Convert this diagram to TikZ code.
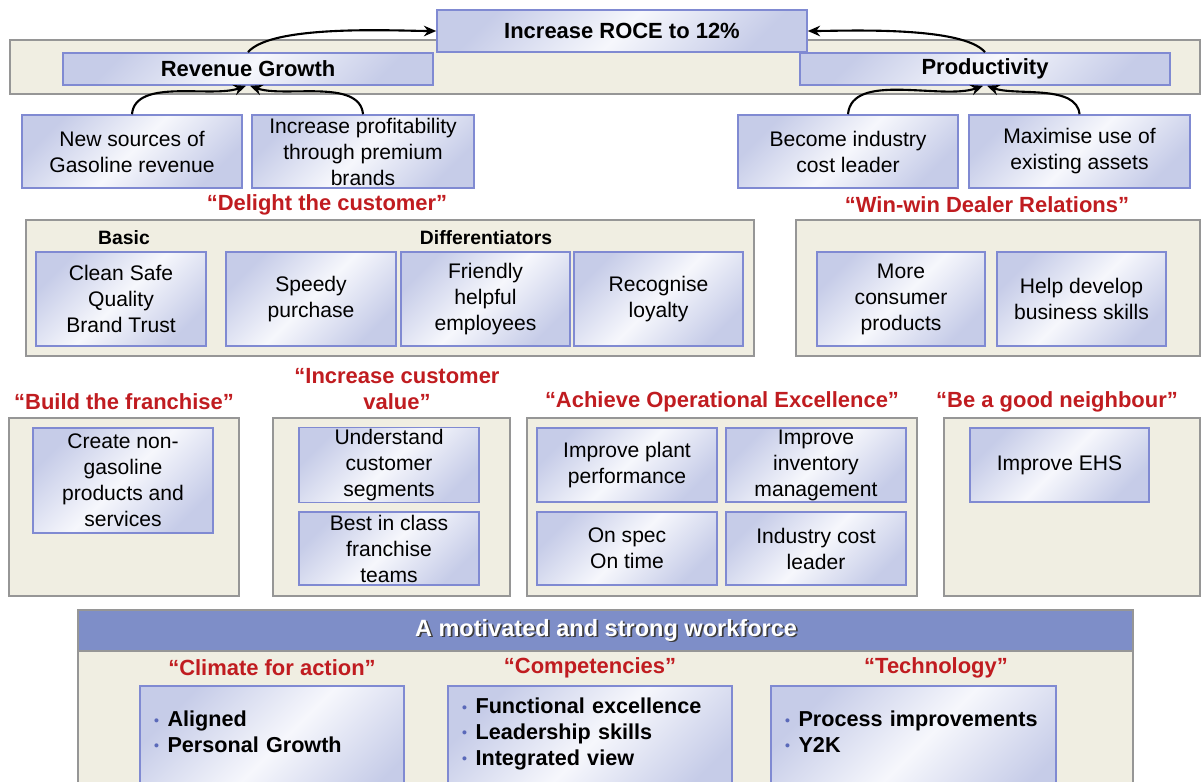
\documentclass[tikz,border=0pt]{standalone}
\usepackage{fontspec}
\setmainfont{Liberation Sans}
\usetikzlibrary{arrows.meta}
\newlength{\px}
\setlength{\px}{0.02cm}
\tikzstyle{panel} = [draw=panelline, fill=panelfill, line width=1.1pt]
\tikzstyle{goal} = [rectangle, draw=boxline, line width=0.9pt, top color=boxdark, bottom color=boxdark, middle color=boxlight, shading angle=45, align=center, inner sep=1pt, font=\boxfont]
\tikzstyle{headgoal} = [goal, font=\headfont]
\tikzstyle{theme} = [text=titlered, align=center, font=\themefont]
\tikzstyle{tag} = [font=\tagfont]
\tikzstyle{listbox} = [goal, anchor=north, align=left, inner xsep=14\px, inner ysep=0pt, text depth=90\px, font=\listfont]
\tikzstyle{arrow} = [line width=1.2pt,-{Stealth[length=7pt,width=6pt]}]
\definecolor{panelfill}{RGB}{240,238,226}
\definecolor{panelline}{RGB}{150,150,150}
\definecolor{boxline}{RGB}{128,138,210}
\definecolor{boxdark}{RGB}{198,204,232}
\definecolor{boxlight}{RGB}{246,247,252}
\definecolor{headblue}{RGB}{126,142,200}
\definecolor{titlered}{RGB}{192,28,32}
\definecolor{bulletblue}{RGB}{90,105,185}
\definecolor{shadowgray}{RGB}{60,60,60}
\newcommand{\boxfont}{\fontsize{12}{14.8}\selectfont}
\newcommand{\headfont}{\bfseries\fontsize{12.5}{15}\selectfont}
\newcommand{\themefont}{\bfseries\fontsize{12.5}{14.8}\selectfont}
\newcommand{\tagfont}{\bfseries\fontsize{11}{13}\selectfont}
\newcommand{\listfont}{\bfseries\fontsize{12.3}{14.6}\selectfont}
\newcommand{\bul}{\textcolor{bulletblue}{\raisebox{1pt}{\footnotesize •}}\hspace{0.4em}}
\newcommand{\shadowtext}[1]{\rlap{\textcolor{shadowgray}{\kern1pt\raisebox{-1pt}{#1}}}\textcolor{white}{#1}}

\begin{document}
\begin{tikzpicture}[x=0.02cm, y=0.02cm]
\useasboundingbox (0,0) rectangle (1202,-781);

% financial goals
\draw[panel] (10,-40) rectangle (1200,-94);
\node (roce) [headgoal, minimum width=370\px, minimum height=42\px] at (622,-31) {Increase ROCE to 12\%};
\node (revenue) [headgoal, minimum width=370\px, minimum height=32\px] at (248,-69) {Revenue Growth};
\node (productivity) [headgoal, minimum width=370\px, minimum height=32\px] at (985,-69) {Productivity};
\node (newsources) [goal, minimum width=220\px, minimum height=73\px] at (132,-151.5) {New sources of\\Gasoline revenue};
\node (premium) [goal, minimum width=222\px, minimum height=73\px] at (363,-151.5) {Increase profitability\\through premium\\brands};
\node (costleader) [goal, minimum width=220\px, minimum height=73\px] at (848,-151.5) {Become industry\\cost leader};
\node (assets) [goal, minimum width=221\px, minimum height=73\px] at (1079.5,-151.5) {Maximise use of\\existing assets};
\draw[arrow] (revenue.north) to[out=50,in=180,looseness=0.5] (roce.west);
\draw[arrow] (productivity.north) to[out=130,in=0,looseness=0.5] (roce.east);
\draw[arrow] (newsources.north) to[out=85,in=200,looseness=0.8] ([xshift=-2\px]revenue.south);
\draw[arrow] (premium.north) to[out=95,in=-20,looseness=0.8] ([xshift=2\px]revenue.south);
\draw[arrow] (costleader.north) to[out=85,in=200,looseness=0.8] ([xshift=-2\px]productivity.south);
\draw[arrow] (assets.north) to[out=95,in=-20,looseness=0.8] ([xshift=2\px]productivity.south);

% customer
\node (delight) [theme] at (327,-205) {“Delight the customer”};
\draw[panel] (26,-220) rectangle (754,-356);
\node (basic) [tag] at (124,-238) {Basic};
\node (differ) [tag] at (486,-238) {Differentiators};
\node (clean) [goal, minimum width=170\px, minimum height=94\px] at (121,-299) {Clean Safe\\Quality\\Brand Trust};
\node (speedy) [goal, minimum width=170\px, minimum height=94\px] at (311,-299) {Speedy\\purchase};
\node (friendly) [goal, minimum width=169\px, minimum height=94\px] at (485.5,-299) {Friendly\\helpful\\employees};
\node (loyalty) [goal, minimum width=169\px, minimum height=94\px] at (658.5,-299) {Recognise\\loyalty};

\node (dealer) [theme] at (987,-205) {“Win-win Dealer Relations”};
\draw[panel] (796,-220) rectangle (1200,-356);
\node (consumer) [goal, minimum width=168\px, minimum height=94\px] at (901,-299) {More\\consumer\\products};
\node (skills) [goal, minimum width=169\px, minimum height=94\px] at (1081.5,-299) {Help develop\\business skills};

% internal
\node (franchise) [theme] at (124,-402) {“Build the franchise”};
\draw[panel] (9,-418) rectangle (239,-596);
\node (nongas) [goal, minimum width=180\px, minimum height=105\px] at (123,-480.5) {Create non-\\gasoline\\products and\\services};

\node (value) [theme] at (397,-389) {“Increase customer\\value”};
\draw[panel] (273,-418) rectangle (510,-596);
\node (segments) [goal, minimum width=180\px, minimum height=74\px] at (389,-465) {Understand\\customer\\segments};
\node (bestclass) [goal, minimum width=180\px, minimum height=73\px] at (389,-548.5) {Best in class\\franchise\\teams};

\node (opex) [theme] at (722,-402) {“Achieve Operational Excellence”};
\draw[panel] (527,-418) rectangle (917,-596);
\node (plant) [goal, minimum width=180\px, minimum height=74\px] at (627,-465) {Improve plant\\performance};
\node (inventory) [goal, minimum width=180\px, minimum height=74\px] at (816,-465) {Improve\\inventory\\management};
\node (onspec) [goal, minimum width=180\px, minimum height=73\px] at (627,-548.5) {On spec\\On time};
\node (industry) [goal, minimum width=180\px, minimum height=73\px] at (816,-548.5) {Industry cost\\leader};

\node (neighbour) [theme] at (1057,-402) {“Be a good neighbour”};
\draw[panel] (944,-418) rectangle (1200,-596);
\node (ehs) [goal, minimum width=179\px, minimum height=74\px] at (1059.5,-465) {Improve EHS};

% workforce
\draw[panel] (78,-610) rectangle (1133,-800);
\draw[draw=panelline, fill=headblue, line width=1.1pt] (78,-610) rectangle (1133,-651);
\node (workforce) [font=\bfseries\fontsize{13.4}{16}\selectfont] at (606,-631) {\shadowtext{A motivated and strong workforce}};
\node (climate) [theme] at (272,-668) {“Climate for action”};
\node (competence) [theme] at (590,-668) {“Competencies”};
\node (technology) [theme] at (936,-668) {“Technology”};
\node (climatebox) [listbox, text width=236\px, text height=41\px] at (272,-685) {\bul Aligned\\\bul Personal Growth};
\node (competebox) [listbox, text width=256\px, text height=28\px] at (590,-685) {\bul Functional excellence\\\bul Leadership skills\\\bul Integrated view};
\node (techbox) [listbox, text width=257\px, text height=41\px] at (913.5,-685) {\bul Process improvements\\\bul Y2K};
\end{tikzpicture}
\end{document}
